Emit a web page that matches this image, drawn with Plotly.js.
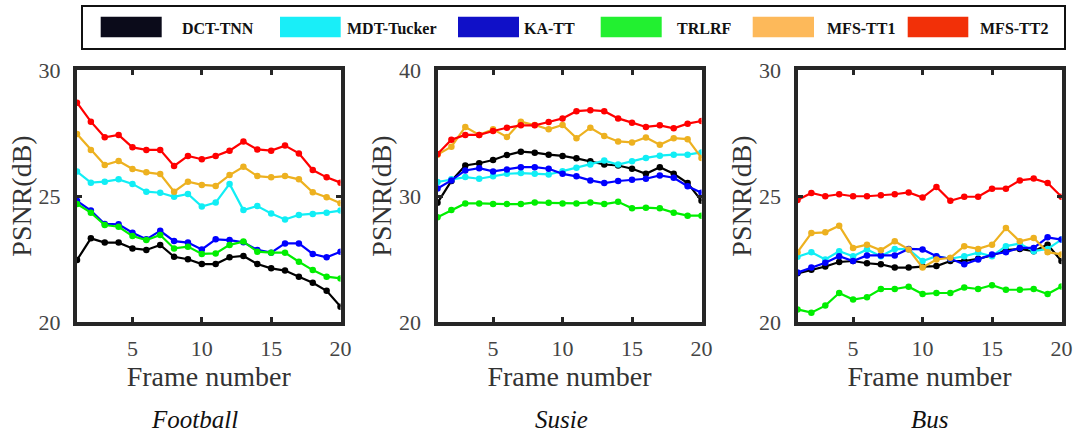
<!DOCTYPE html>
<html><head><meta charset="utf-8">
<script src="https://cdn.plot.ly/plotly-3.0.1.min.js"></script>
<style>html,body{margin:0;padding:0;background:#fff}#chart{width:1075px;height:435px}</style>
</head><body><div id="chart"></div>
<script>
const frames = [1,2,3,4,5,6,7,8,9,10,11,12,13,14,15,16,17,18,19,20];
const methods = ['DCT-TNN','MDT-Tucker','KA-TT','TRLRF','MFS-TT1','MFS-TT2'];
const lineColors = ['#000000','#11EEF5','#0000FF','#00EE00','#EDB120','#FF0000'];
const legendColors = ['#0B0B1A','#19EEF8','#1010C8','#22F030','#FDB95A','#F23008'];
const datasetNames = ['Football','Susie','Bus'];
const yRanges = [[20,30],[20,40],[20,30]];
const yTicks = [[20,25,30],[20,30,40],[20,25,30]];
const xTicks = [5,10,15,20];

// Football
const football_DCT_TNN   = [22.46,23.32,23.15,23.15,22.92,22.86,23.06,22.59,22.49,22.30,22.30,22.57,22.62,22.30,22.13,22.04,21.80,21.56,21.24,20.61];
const football_MDT_Tucker= [25.97,25.53,25.57,25.66,25.48,25.17,25.13,24.97,25.08,24.58,24.74,25.48,24.44,24.60,24.31,24.07,24.25,24.29,24.34,24.42];
const football_KA_TT     = [24.81,24.42,23.89,23.88,23.54,23.28,23.62,23.21,23.15,22.88,23.28,23.25,23.16,22.86,22.75,23.12,23.12,22.70,22.57,22.79];
const football_TRLRF     = [24.68,24.34,23.85,23.78,23.41,23.25,23.45,22.92,22.99,22.70,22.72,23.06,23.19,22.79,22.75,22.75,22.39,22.06,21.80,21.73];
const football_MFS_TT1   = [27.46,26.83,26.23,26.39,26.07,25.94,25.87,25.17,25.57,25.44,25.40,25.83,26.16,25.79,25.74,25.79,25.66,25.15,24.95,24.71];
const football_MFS_TT2   = [28.70,27.95,27.33,27.42,26.93,26.83,26.83,26.19,26.59,26.46,26.59,26.80,27.16,26.85,26.80,27.00,26.69,26.03,25.74,25.53];

// Susie
const susie_DCT_TNN   = [29.46,31.19,32.42,32.60,32.86,33.25,33.52,33.44,33.28,33.18,32.99,32.76,32.50,32.42,32.16,31.76,32.29,31.76,31.03,29.62];
const susie_MDT_Tucker= [31.11,31.32,31.50,31.37,31.56,31.76,31.82,31.76,31.71,31.97,32.24,32.50,32.81,32.50,32.76,33.02,33.20,33.28,33.28,33.46];
const susie_KA_TT     = [30.59,31.24,32.03,32.21,31.95,32.10,32.29,32.29,32.16,31.76,31.56,31.24,31.03,31.19,31.29,31.37,31.63,31.45,30.77,30.25];
const susie_TRLRF     = [28.31,28.89,29.41,29.41,29.36,29.36,29.36,29.49,29.46,29.41,29.41,29.49,29.36,29.54,29.02,29.07,29.02,28.68,28.44,28.44];
const susie_MFS_TT1   = [33.28,33.91,35.48,34.85,35.29,34.69,35.90,35.63,35.29,35.63,34.59,35.42,34.77,34.33,34.25,34.64,34.07,34.59,34.51,33.02];
const susie_MFS_TT2   = [33.33,34.46,34.85,34.85,35.16,35.42,35.61,35.61,35.87,36.16,36.73,36.81,36.73,36.16,35.82,35.48,35.61,35.37,35.74,35.95];

// Bus
const bus_DCT_TNN   = [21.93,22.07,22.20,22.38,22.42,22.33,22.29,22.16,22.16,22.20,22.22,22.42,22.42,22.51,22.64,22.85,22.90,22.81,23.07,22.42];
const bus_MDT_Tucker= [22.59,22.77,22.48,22.81,22.61,22.88,22.61,22.90,22.88,22.42,22.61,22.51,22.61,22.75,22.61,23.01,23.11,22.81,22.90,23.27];
const bus_KA_TT     = [21.96,22.16,22.35,22.61,22.42,22.64,22.64,22.64,22.90,22.88,22.61,22.51,22.29,22.48,22.68,22.77,22.94,22.94,23.36,23.27];
const bus_TRLRF     = [20.50,20.37,20.65,21.15,20.89,20.98,21.31,21.31,21.40,21.11,21.15,21.15,21.37,21.31,21.46,21.28,21.28,21.31,21.11,21.41];
const bus_MFS_TT1   = [22.77,23.53,23.56,23.82,22.94,23.07,22.85,23.20,22.88,22.16,22.48,22.55,23.01,22.90,23.07,23.73,23.20,23.33,22.77,22.68];
const bus_MFS_TT2   = [24.84,25.12,24.99,25.07,24.99,24.99,25.03,25.07,25.14,24.94,25.36,24.81,24.97,24.97,25.29,25.29,25.62,25.69,25.52,24.97];

const allData = [
  [football_DCT_TNN, football_MDT_Tucker, football_KA_TT, football_TRLRF, football_MFS_TT1, football_MFS_TT2],
  [susie_DCT_TNN, susie_MDT_Tucker, susie_KA_TT, susie_TRLRF, susie_MFS_TT1, susie_MFS_TT2],
  [bus_DCT_TNN, bus_MDT_Tucker, bus_KA_TT, bus_TRLRF, bus_MFS_TT1, bus_MFS_TT2]
];

const W = 1075, H = 435;
const px = v => v / W;
const py = v => 1 - v / H;
const FONT = '"Liberation Serif", "Times New Roman", serif';
const xDomains = [[77, 340.5], [437.5, 701.5], [797.5, 1061.5]];
const yDomain = [py(322), py(70)];

const traces = [];
allData.forEach((series, p) => {
  series.forEach((vals, m) => {
    traces.push({
      x: frames, y: vals, type: 'scatter', mode: 'lines+markers',
      name: methods[m], showlegend: false,
      xaxis: p === 0 ? 'x' : 'x' + (p + 1),
      yaxis: p === 0 ? 'y' : 'y' + (p + 1),
      line: {color: lineColors[m], width: 2.2},
      marker: {color: lineColors[m], size: 6.5, symbol: 'circle'}
    });
  });
});

const layout = {
  width: W, height: H,
  margin: {l: 0, r: 0, t: 0, b: 0},
  paper_bgcolor: '#fff', plot_bgcolor: '#fff',
  showlegend: false,
  font: {family: FONT, color: '#404040'},
  shapes: [], annotations: []
};

datasetNames.forEach((name, p) => {
  const sx = p === 0 ? '' : String(p + 1);
  layout['xaxis' + sx] = {
    domain: [px(xDomains[p][0]), px(xDomains[p][1])],
    anchor: 'y' + sx,
    range: [1, 20], tickvals: xTicks, ticktext: xTicks.map(String),
    ticks: 'inside', ticklen: 5, tickwidth: 3, tickcolor: '#262626',
    showline: true, linewidth: 4, linecolor: '#262626', mirror: 'ticks',
    showgrid: false, zeroline: false,
    tickfont: {family: FONT, size: 22, color: '#444'},
    ticklabelstandoff: 4,
    title: {text: 'Frame number', font: {family: FONT, size: 28, color: '#333'}, standoff: 0}
  };
  layout['yaxis' + sx] = {
    domain: yDomain,
    anchor: 'x' + sx,
    range: yRanges[p], tickvals: yTicks[p], ticktext: yTicks[p].map(String),
    ticks: 'inside', ticklen: 5, tickwidth: 3, tickcolor: '#262626',
    showline: true, linewidth: 4, linecolor: '#262626', mirror: 'ticks',
    showgrid: false, zeroline: false,
    tickfont: {family: FONT, size: 22, color: '#444'},
    ticklabelstandoff: 8,
    title: {text: 'PSNR(dB)', font: {family: FONT, size: 28, color: '#333'}, standoff: 0}
  };
});

// dataset captions
const captionX = [194, 561, 930];
datasetNames.forEach((name, p) => {
  layout.annotations.push({
    xref: 'paper', yref: 'paper', x: px(captionX[p]), y: py(419),
    xanchor: 'center', yanchor: 'middle', showarrow: false,
    text: '<i>' + name + '</i>',
    font: {family: FONT, size: 25, color: '#111'}
  });
});

// legend box
layout.shapes.push({type: 'rect', xref: 'paper', yref: 'paper',
  x0: px(82), x1: px(1065), y0: py(49), y1: py(6),
  line: {color: '#111', width: 2}, fillcolor: 'rgba(0,0,0,0)'});
const legRect = [[100.7,161.7],[280,340.7],[458,519],[600.7,661.7],[752.7,814],[907.7,968.3]];
const legText = [180, 345, 522, 675, 825, 978];
methods.forEach((m, i) => {
  layout.shapes.push({type: 'rect', xref: 'paper', yref: 'paper',
    x0: px(legRect[i][0]), x1: px(legRect[i][1]), y0: py(37.3), y1: py(16.7),
    line: {width: 0}, fillcolor: legendColors[i]});
  layout.annotations.push({xref: 'paper', yref: 'paper',
    x: px(legText[i]), y: py(28), xanchor: 'left', yanchor: 'middle', showarrow: false,
    text: '<b>' + m + '</b>', font: {family: FONT, size: 16, color: '#111'}});
});

Plotly.newPlot('chart', traces, layout, {displayModeBar: false, staticPlot: true});
</script></body></html>
